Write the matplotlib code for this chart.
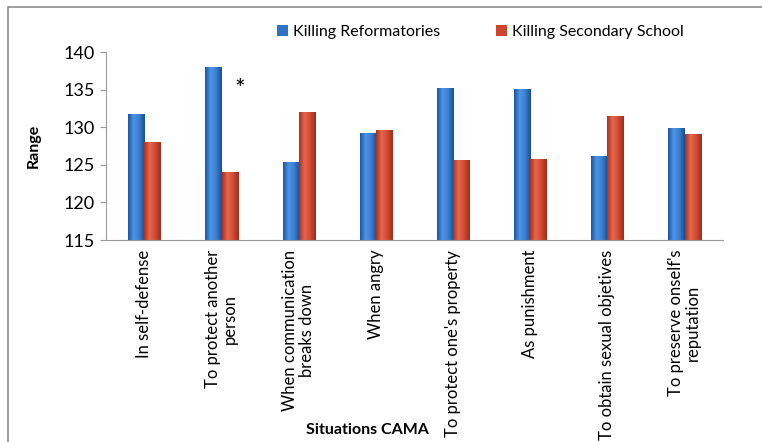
import matplotlib
matplotlib.use("Agg")
import matplotlib.pyplot as plt
import numpy as np
from matplotlib.colors import LinearSegmentedColormap
from matplotlib.patches import Rectangle

categories = ["In self-defense", "To protect another\nperson", "When communication\nbreaks down",
              "When angry", "To protect one's property", "As punishment",
              "To obtain sexual objetives", "To preserve onself's\nreputation"]
reformatories = [131.8, 138.0, 125.4, 129.2, 135.2, 135.1, 126.2, 129.9]
secondary = [128.0, 124.0, 132.0, 129.7, 125.7, 125.8, 131.5, 129.1]
series_names = ["Killing Reformatories", "Killing Secondary School"]
yticks = [115, 120, 125, 130, 135, 140]

plt.rcParams['font.family'] = ['Lato', 'DejaVu Sans']

fig = plt.figure(figsize=(7.62, 4.42), dpi=100)
ax = fig.add_axes([0.139, 0.457, 0.810, 0.425])

x = np.arange(len(categories))
w = 0.21
blue = "#2E72C4"
red = "#CC4530"
b1 = ax.bar(x - w / 2, reformatories, width=w, color=blue, label=series_names[0], zorder=2)
b2 = ax.bar(x + w / 2, secondary, width=w, color=red, label=series_names[1], zorder=2)

ax.set_ylim(yticks[0], yticks[-1])
ax.set_xlim(-0.5, len(categories) - 0.5)
ylo = ax.get_ylim()[0]

cm_blue = LinearSegmentedColormap.from_list("b", ["#1C56A0", "#4D94E4", "#3A7ED0", "#1A4E92"])
cm_red = LinearSegmentedColormap.from_list("r", ["#A8321F", "#E8674E", "#D04A34", "#9E2E1C"])
grad = np.linspace(0, 1, 64).reshape(1, -1)
for bars, cm in ((b1, cm_blue), (b2, cm_red)):
    for p in bars:
        x0 = p.get_x()
        top = p.get_y() + p.get_height()
        im = ax.imshow(grad, cmap=cm, aspect="auto", zorder=3,
                       extent=(x0, x0 + p.get_width(), ylo, top))
        im.set_clip_path(p)

ax.set_ylim(yticks[0], yticks[-1])
ax.set_xlim(-0.5, len(categories) - 0.5)
ax.set_yticks(yticks)
ax.set_xticks(x)
ax.set_xticklabels(categories, rotation=90, fontsize=12, linespacing=1.1, ha="center", va="top")
ax.tick_params(axis="x", length=0, pad=7)
ax.tick_params(axis="y", labelsize=13, length=4, color="#999999", pad=4)
for s in ("top", "right"):
    ax.spines[s].set_visible(False)
for s in ("left", "bottom"):
    ax.spines[s].set_color("#999999")
    ax.spines[s].set_zorder(4)
ax.set_ylabel("Range", fontsize=11.5, fontweight="bold", labelpad=16)

ax.text(1 + 0.24, 135.0, "*", fontsize=18, ha="center", va="center")

fig.text(0.482, 0.012, "Situations CAMA", fontsize=11.5, fontweight="bold", ha="center", va="bottom")

leg = fig.legend(handles=[b1, b2], loc="center", bbox_to_anchor=(0.63, 0.928), ncol=2,
                 frameon=False, fontsize=11.5, handlelength=0.7, handleheight=0.7,
                 handletextpad=0.3, columnspacing=3.5)

fig.patches.append(Rectangle((8 / 762, -0.05), 1.2, 1 - 7 / 442 + 0.05, transform=fig.transFigure,
                             fill=False, edgecolor="#8C8C8C", linewidth=1.2))

fig.savefig("out.png", dpi=100)
